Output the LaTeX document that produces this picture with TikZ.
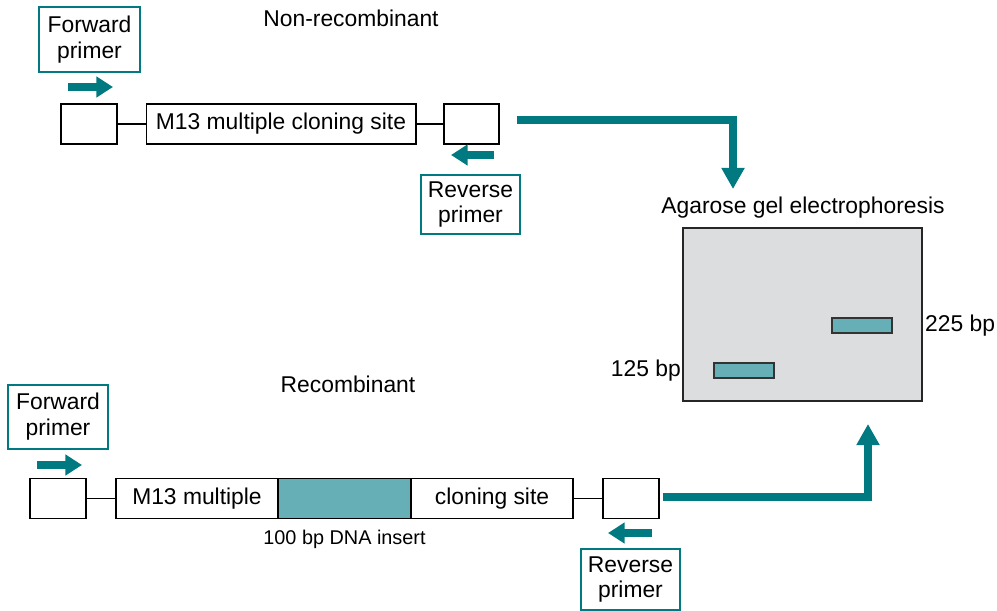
\documentclass[tikz,border=0pt]{standalone}
\usepackage{fontspec}
\setmainfont{Liberation Sans}
\usepackage{tikz}
\usetikzlibrary{arrows.meta,positioning}
\usepackage{xcolor}
\definecolor{teal1}{RGB}{0,122,128}
\definecolor{band1}{RGB}{102,175,182}
\definecolor{gel1}{RGB}{220,221,223}

\begin{document}
\begin{tikzpicture}[
    x=0.02cm,y=-0.02cm,
    font=\fontsize{13}{14.7}\selectfont,
    seg/.style={draw=black,line width=0.6pt,fill=white,inner sep=0pt,minimum height=0.8cm},
    primer/.style={draw=teal1,line width=0.8pt,align=center,inner sep=0pt},
    band/.style={draw=black!80,line width=0.6pt,fill=band1,inner sep=0pt,minimum width=1.2cm,minimum height=0.3cm},
    flow/.style={-{Triangle[width=12.5pt,length=12pt]},draw=teal1,line width=4.2pt},
    pointer/.style={-{Triangle[width=11.5pt,length=9.5pt]},draw=teal1,line width=4.2pt},
    link/.style={draw=black,line width=0.6pt}
  ]
    \useasboundingbox (0,0) rectangle (997,611);

    % non-recombinant
    \node (title1) at (351,18) {Non-recombinant};
    \node[primer,minimum width=2.02cm,minimum height=1.3cm] (fwd1) at (89.5,39.5) {Forward\\primer};
    \node[seg,minimum width=1.12cm] (lb1) at (89,124) {};
    \node[seg,minimum width=5.4cm] (mcs1) at (281,124) {M13 multiple cloning site};
    \node[seg,minimum width=1.1cm] (rb1) at (471.5,124) {};
    \node[primer,minimum width=1.98cm,minimum height=1.18cm] (rev1) at (470.5,204.5) {Reverse\\primer};
    \draw[link] (lb1) -- (mcs1);
    \draw[link] (mcs1) -- (rb1);
    \coordinate (f1a) at (68,87);  \coordinate (f1b) at (113,87);
    \coordinate (r1a) at (494,155); \coordinate (r1b) at (451,155);
    \draw[pointer] (f1a) -- (f1b);
    \draw[pointer] (r1a) -- (r1b);

    % gel
    \node (geltitle) at (803,208) {Agarose gel electrophoresis};
    \node[draw=black!85,line width=0.8pt,fill=gel1,minimum width=4.78cm,minimum height=3.46cm] (gel) at (802.5,314.5) {};
    \node[band] (b225) at (862,325.5) {};
    \node[band] (b125) at (744,370.5) {};
    \node[anchor=west] (l225) at (919,326) {225 bp};
    \node[anchor=east] (l125) at (687,371) {125 bp};

    % recombinant
    \node (title2) at (348,384) {Recombinant};
    \node[primer,minimum width=2cm,minimum height=1.28cm] (fwd2) at (58,417) {Forward\\primer};
    \node[seg,minimum width=1.12cm] (lb2) at (58,498.5) {};
    \node[seg,minimum width=3.24cm] (m13) at (197,498.5) {M13 multiple};
    \node[seg,fill=band1,minimum width=2.66cm] (ins) at (344.5,498.5) {};
    \node[seg,minimum width=3.24cm] (cls) at (492,498.5) {cloning site};
    \node[seg,minimum width=1.12cm] (rb2) at (631,498.5) {};
    \node[font=\fontsize{11.3}{13}\selectfont] (inslbl) at (344.5,539) {100 bp DNA insert};
    \node[primer,minimum width=1.98cm,minimum height=1.22cm] (rev2) at (630.5,579.5) {Reverse\\primer};
    \draw[link] (lb2) -- (m13);
    \draw[link] (cls) -- (rb2);
    \coordinate (f2a) at (37,465);  \coordinate (f2b) at (82,465);
    \coordinate (r2a) at (652,533); \coordinate (r2b) at (608,533);
    \draw[pointer] (f2a) -- (f2b);
    \draw[pointer] (r2a) -- (r2b);

    % flows to the gel
    \coordinate (in1) at (733,189);
    \coordinate (in2) at (868,424);
    \draw[flow] ([xshift=0.34cm,yshift=0.08cm]rb1.east) -| (in1);
    \draw[flow] ([xshift=0.06cm,yshift=0.03cm]rb2.east) -| (in2);
  \end{tikzpicture}
\end{document}
